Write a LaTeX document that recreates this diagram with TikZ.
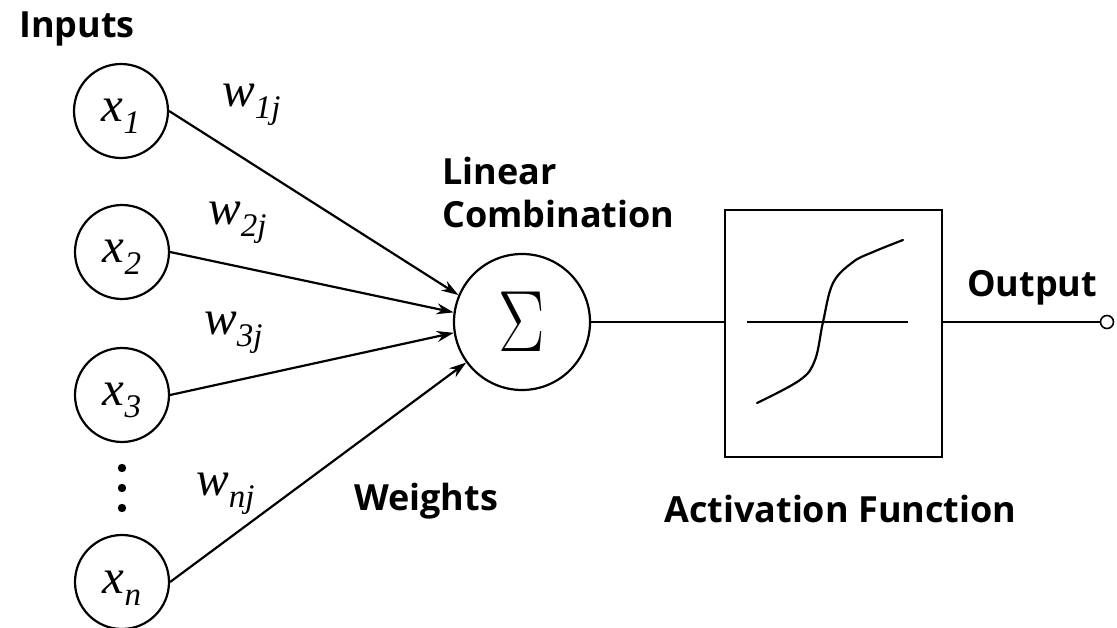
\documentclass[tikz,border=0pt]{standalone}
\usepackage{fontspec}
\usepackage{graphicx}
\usetikzlibrary{arrows.meta}
\newfontfamily\lblfont{Open Sans}
\newfontfamily\tms{Liberation Serif}
\newcommand\ivar[2]{{\tms\itshape\fontsize{49}{49}\selectfont #1\raisebox{-12pt}{\fontsize{33}{33}\selectfont #2}}}
\tikzset{
  inp/.style={circle, draw, line width=2.2pt, minimum size=94pt, inner sep=0pt, text height=30pt, text depth=8pt},
  lbl/.style={font=\lblfont\bfseries\fontsize{36}{43}\selectfont, inner sep=0pt, anchor=base west, align=left},
  wl/.style={inner sep=0pt, anchor=base west},
  conn/.style={line width=2.2pt},
  arr/.style={conn, -{Stealth[length=17pt,width=11pt]}}
}
\begin{document}
\begin{tikzpicture}[x=1pt,y=-1pt]
\useasboundingbox (0,0) rectangle (1117,628);
% inputs
\node[inp] (x1) at (121,111) {\ivar{x}{1}};
\node[inp] (x2) at (122,252) {\ivar{x}{2}};
\node[inp] (x3) at (122,395) {\ivar{x}{3}};
\node[inp] (xn) at (122,582) {\ivar{x}{n}};
\foreach \yy in {468,488,508} \fill (122,\yy) circle (4.2pt);
% summation
\node[circle, draw, line width=2.2pt, minimum size=136pt, inner sep=0pt] (s) at (522,322) {\scalebox{2.8}[3.5]{\Huge$\Sigma$}};
% weights
\node[wl] (w1) at (222,107) {\ivar{w}{1j}};
\node[wl] (w2) at (208,225) {\ivar{w}{2j}};
\node[wl] (w3) at (204,335) {\ivar{w}{3j}};
\node[wl] (wn) at (196,495) {\ivar{w}{nj}};
\draw[arr] (x1.east) -- (s.157);
\draw[arr] (x2.east) -- (s.172);
\draw[arr] (x3.east) -- (s.189);
\draw[arr] (xn.east) -- (s.216);
% activation
\node[draw, line width=2.4pt, minimum width=217pt, minimum height=247pt, inner sep=0pt] (act) at (833.5,333.5) {};
\draw[conn] (s.east) -- (s.east -| act.west);
\draw[conn] (747,322) -- (908,322);
\draw[conn, line cap=round] plot[smooth, tension=0.6] coordinates {(757,403) (800,380) (815,360) (823,322) (833,283) (853,262) (873,252) (903,240)};
\node[circle, draw, line width=1.6pt, minimum size=13pt, inner sep=0pt] (out) at (1107,322) {};
\draw[conn] (out.west -| act.east) -- (out.west);
% labels
\node[lbl] (tin) at (19,38) {Inputs};
\node[lbl] (tlc) at (442,228) {Linear\\Combination};
\node[lbl] (twt) at (354,510) {Weights};
\node[lbl] (taf) at (664,522) {Activation Function};
\node[lbl] (tout) at (967,297) {Output};
\end{tikzpicture}
\end{document}
